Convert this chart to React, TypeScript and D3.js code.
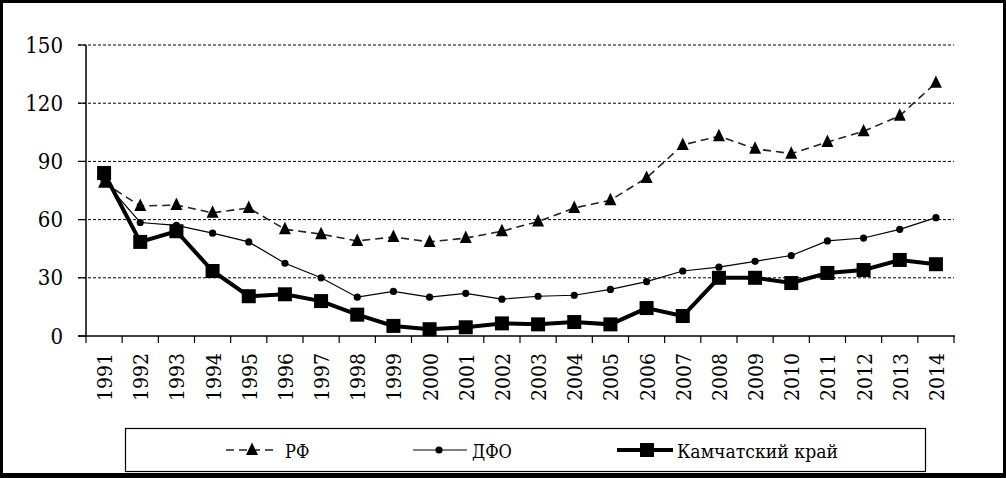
import React from "react";
import * as d3 from "d3";

const years = ["1991","1992","1993","1994","1995","1996","1997","1998","1999","2000","2001","2002","2003","2004","2005","2006","2007","2008","2009","2010","2011","2012","2013","2014"];
const rf = [79, 67, 67.5, 63.5, 66, 55, 52.5, 49, 51, 48.5, 50.5, 54, 59, 66, 70, 81.5, 98.5, 103, 96.5, 94, 100, 105.5, 113.5, 130.5];
const dfo = [80, 58.5, 57, 53, 48.5, 37.5, 30, 20, 23, 20, 22, 19, 20.5, 21, 24, 28, 33.5, 35.5, 38.5, 41.5, 49, 50.5, 55, 61];
const kam = [84, 48.5, 54, 33.5, 20.5, 21.5, 18, 11, 5.2, 3.5, 4.5, 6.5, 6, 7.2, 6, 14.4, 10.3, 30, 30, 27.3, 32.5, 34, 39.2, 37];
const yTicks = [0, 30, 60, 90, 120, 150];
const legendLabels = ["РФ", "ДФО", "Камчатский край"];

const W = 1006, H = 478;
const ts = { fontFamily: "'DejaVu Serif Condensed', 'DejaVu Serif'", fontStretch: "condensed" } as React.CSSProperties;

export default function App() {
  const x = d3.scaleBand<string>().domain(years).range([86, 954]);
  const y = d3.scaleLinear().domain([0, 150]).range([336, 45]);
  const cx = (yr: string) => (x(yr) as number) + x.bandwidth() / 2;
  const line = (vals: number[]) =>
    d3.line<number>().x((_, i) => cx(years[i])).y((v) => y(v))(vals) as string;
  const tri = (px: number, py: number, s: number) =>
    `M${px},${py - s * 0.62} L${px + s / 2},${py + s * 0.42} L${px - s / 2},${py + s * 0.42} Z`;

  return (
    <svg width={W} height={H} style={{ position: "absolute", left: 0, top: 0, background: "#fff" }}>
      <rect x={0} y={0} width={W} height={H} fill="#fff" />
      <rect x={1.5} y={1.5} width={W - 3} height={H - 5} fill="none" stroke="#000" strokeWidth={3} />
      <rect x={0} y={H - 5} width={W} height={5} fill="#000" />

      {yTicks.filter((t) => t > 0).map((t) => (
        <line key={t} x1={78} x2={954} y1={y(t)} y2={y(t)} stroke="#000" strokeWidth={1} strokeDasharray="3,2" />
      ))}
      <line x1={86} x2={86} y1={y(150)} y2={y(0)} stroke="#000" strokeWidth={1.5} />
      {yTicks.map((t) => (
        <g key={t}>
          <line x1={78} x2={86} y1={y(t)} y2={y(t)} stroke="#000" strokeWidth={1.2} />
          <text x={63} y={y(t)} textAnchor="end" dominantBaseline="central" fontSize={22} fill="#000" style={ts}>{t}</text>
        </g>
      ))}
      <line x1={78} x2={955} y1={y(0)} y2={y(0)} stroke="#000" strokeWidth={1.5} />
      {years.map((yr) => (
        <line key={yr} x1={x(yr) as number} x2={x(yr) as number} y1={y(0)} y2={y(0) + 7} stroke="#000" strokeWidth={1.2} />
      ))}
      <line x1={954} x2={954} y1={y(0)} y2={y(0) + 7} stroke="#000" strokeWidth={1.2} />
      {years.map((yr) => (
        <text key={yr} transform={`translate(${cx(yr) + 1},${353}) rotate(-90)`} textAnchor="end" dominantBaseline="central" fontSize={21} fill="#000" style={ts}>{yr}</text>
      ))}

      <path d={line(rf)} fill="none" stroke="#222" strokeWidth={1.6} strokeDasharray="8,5" />
      {rf.map((v, i) => (
        <path key={i} d={tri(cx(years[i]), y(v), 12)} fill="#000" />
      ))}
      <path d={line(dfo)} fill="none" stroke="#000" strokeWidth={1.2} />
      {dfo.map((v, i) => (
        <circle key={i} cx={cx(years[i])} cy={y(v)} r={3.6} fill="#000" />
      ))}
      <path d={line(kam)} fill="none" stroke="#000" strokeWidth={4} strokeLinejoin="miter" />
      {kam.map((v, i) => (
        <rect key={i} x={cx(years[i]) - 7} y={y(v) - 7} width={14} height={14} fill="#000" />
      ))}

      <rect x={125.5} y={428.5} width={800} height={43} fill="#fff" stroke="#000" strokeWidth={1.2} />
      <line x1={225} x2={277} y1={450} y2={450} stroke="#222" strokeWidth={1.6} strokeDasharray="8,5" strokeDashoffset={-1} />
      <path d={tri(252, 450, 12)} fill="#000" />
      <text x={285} y={451} dominantBaseline="central" fontSize={18} fill="#000" style={ts}>{legendLabels[0]}</text>
      <line x1={413} x2={467} y1={450} y2={450} stroke="#000" strokeWidth={1.2} />
      <circle cx={439} cy={450} r={3.6} fill="#000" />
      <text x={472} y={451} dominantBaseline="central" fontSize={18} fill="#000" style={ts}>{legendLabels[1]}</text>
      <line x1={617} x2={673} y1={450} y2={450} stroke="#000" strokeWidth={4} />
      <rect x={640} y={443} width={14} height={14} fill="#000" />
      <text x={677} y={451} dominantBaseline="central" fontSize={18} fill="#000" style={ts} textLength={161} lengthAdjust="spacingAndGlyphs">{legendLabels[2]}</text>
    </svg>
  );
}
